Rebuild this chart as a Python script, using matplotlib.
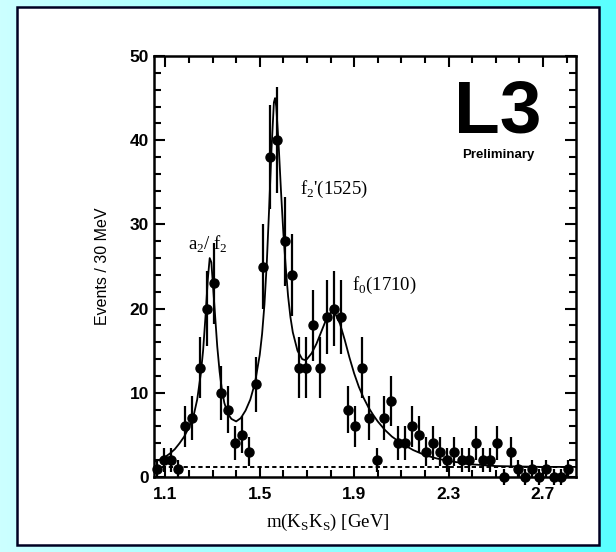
import numpy as np
import matplotlib.pyplot as plt
from matplotlib.patches import Rectangle
from matplotlib.ticker import MultipleLocator

# K_S K_S invariant mass spectrum, 30 MeV bins starting at 1.05 GeV
bin_lo = 1.05
bin_width = 0.03
counts = [1, 2, 2, 1, 6, 7, 13, 20, 23, 10,
          8, 4, 5, 3, 11, 25, 38, 40, 28, 24,
          13, 13, 18, 13, 19, 20, 19, 8, 6, 13,
          7, 2, 7, 9, 4, 4, 6, 5, 3, 4,
          3, 2, 3, 2, 2, 4, 2, 2, 4, 0,
          3, 1, 0, 1, 0, 1, 0, 0, 1]
errors = [1.0, 1.4, 1.4, 1.0, 2.4, 2.6, 3.6, 4.5, 4.8, 3.2,
          2.8, 2.0, 2.2, 1.7, 3.3, 5.0, 6.2, 6.3, 5.3, 4.9,
          3.6, 3.6, 4.2, 3.6, 4.4, 4.5, 4.4, 2.8, 2.4, 3.6,
          2.6, 1.4, 2.6, 3.0, 2.0, 2.0, 2.4, 2.2, 1.7, 2.0,
          1.7, 1.4, 1.7, 1.4, 1.4, 2.0, 1.4, 1.4, 2.0, 1.0,
          1.7, 1.0, 1.0, 1.0, 1.0, 1.0, 1.0, 1.0, 1.0]

# fitted curve (three resonances + background)
fit_m = [1.052, 1.08, 1.10, 1.12, 1.14, 1.16, 1.18, 1.20, 1.22, 1.235,
         1.25, 1.26, 1.27, 1.28, 1.288, 1.295, 1.30, 1.31, 1.32, 1.33,
         1.34, 1.35, 1.365, 1.38, 1.40, 1.42, 1.44, 1.46, 1.48, 1.50,
         1.51, 1.52, 1.53, 1.54, 1.55, 1.56, 1.565, 1.57, 1.58, 1.59,
         1.60, 1.61, 1.62, 1.63, 1.64, 1.66, 1.68, 1.69, 1.70, 1.72,
         1.74, 1.76, 1.78, 1.80, 1.81, 1.82, 1.84, 1.86, 1.88, 1.90,
         1.92, 1.94, 1.96, 1.98, 2.00, 2.03, 2.06, 2.10, 2.15, 2.20,
         2.25, 2.30, 2.35, 2.40, 2.45, 2.50, 2.60, 2.70, 2.84]
fit_n = [1.8, 2.1, 2.4, 2.8, 3.3, 4.0, 4.8, 5.9, 7.3, 9.2,
         12.2, 15.0, 19.0, 23.5, 26.0, 25.5, 23.5, 19.5, 15.5, 12.5,
         10.3, 8.8, 7.5, 6.9, 6.6, 7.0, 7.9, 9.2, 11.2, 14.5,
         17.0, 20.5, 25.5, 32.0, 39.0, 44.5, 45.0, 44.0, 39.5, 34.0,
         29.0, 25.0, 21.5, 19.0, 17.2, 15.0, 14.0, 13.9, 14.0, 14.7,
         15.8, 17.2, 18.6, 19.5, 19.7, 19.4, 18.2, 16.3, 14.2, 12.3,
         10.7, 9.4, 8.3, 7.4, 6.6, 5.6, 4.8, 4.0, 3.2, 2.6,
         2.2, 1.9, 1.7, 1.5, 1.4, 1.3, 1.25, 1.2, 1.2]
background = 1.2

centers = bin_lo + bin_width * (np.arange(len(counts)) + 0.5)

fig = plt.figure(figsize=(6.16, 5.52), dpi=100)

# cyan slide background with white panel
bg = fig.add_axes([0, 0, 1, 1], zorder=-10)
grad = np.linspace(0, 1, 256)[None, :]
cols = np.zeros((1, 256, 3))
cols[..., 0] = 0.80 - 0.45 * grad
cols[..., 1] = 1.0
cols[..., 2] = 1.0
bg.imshow(cols, aspect='auto', extent=[0, 1, 0, 1])
bg.set_axis_off()
fig.patches.append(Rectangle((17 / 616, 7 / 552), 582 / 616, 538 / 552,
                             transform=fig.transFigure, facecolor='white',
                             edgecolor='#000022', linewidth=1.8, zorder=-5))

ax = fig.add_axes([154 / 616, 75 / 552, 422 / 616, 421 / 552])
ax.set_facecolor('none')

ax.plot(fit_m, fit_n, color='black', lw=1.3)
ax.axhline(background, color='black', lw=1.4, ls=(0, (2.2, 1.6)))
ax.errorbar(centers, counts, yerr=errors, fmt='o', color='black',
            ms=6.5, elinewidth=1.6, capsize=0, clip_on=False)

ax.set_xlim(1.052, 2.84)
ax.set_ylim(0, 50)
ax.xaxis.set_major_locator(MultipleLocator(0.4, offset=0.3))
ax.xaxis.set_minor_locator(MultipleLocator(0.1))
ax.yaxis.set_major_locator(MultipleLocator(10))
ax.yaxis.set_minor_locator(MultipleLocator(2))
ax.tick_params(which='both', direction='in', top=True, right=True,
               width=1.5, labelsize=12.5)
ax.tick_params(which='major', length=8)
ax.tick_params(which='minor', length=5)
ax.tick_params(axis='x', pad=7)
for lab in ax.get_xticklabels() + ax.get_yticklabels():
    lab.set_fontfamily('Liberation Sans')
    lab.set_fontweight('bold')
for sp in ax.spines.values():
    sp.set_linewidth(1.8)

ax.set_ylabel('Events / 30 MeV', fontfamily='Liberation Sans',
              fontsize=11.5, labelpad=14)
ax.set_xlabel(r'm(K$_\mathregular{S}$K$_\mathregular{S}$) [GeV]',
              fontfamily='Liberation Serif', fontsize=13.5)
ax.xaxis.set_label_coords(0.412, -0.083)

serif = dict(fontfamily='Liberation Serif', fontsize=13.5, va='center')
ax.text(1.196, 27.6, r'a$_\mathregular{2}$/ f$_\mathregular{2}$', **serif)
ax.text(1.67, 34.1, r"f$_\mathregular{2}$'(1525)", **serif)
ax.text(1.891, 22.8, r'f$_\mathregular{0}$(1710)', **serif)

ax.text(2.322, 43.2, 'L3', fontfamily='Liberation Sans', fontweight='bold',
        fontsize=54, ha='left', va='center')
ax.text(2.51, 38.2, 'Preliminary', fontfamily='Liberation Sans',
        fontweight='bold', fontsize=9.5, ha='center', va='center')

fig.savefig('out.png', dpi=100)
